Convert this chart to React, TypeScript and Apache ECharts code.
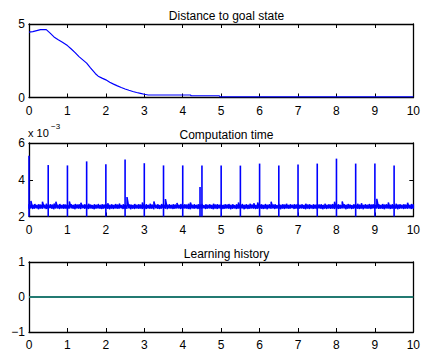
import React, { useEffect, useRef } from 'react';
import * as echarts from 'echarts';

// ---- Data ----
const distanceTimes = [0, 0.1, 0.2, 0.3, 0.45, 0.55, 0.65, 0.75, 0.87, 1.0, 1.1, 1.2, 1.3, 1.4, 1.5, 1.6, 1.73, 1.8, 1.9, 2.0, 2.1, 2.2, 2.3, 2.4, 2.5, 2.6, 2.7, 2.8, 2.9, 3.0, 3.1, 4.2, 4.22, 4.95, 4.97, 10];
const distanceValues = [4.45, 4.48, 4.55, 4.62, 4.62, 4.38, 4.12, 3.95, 3.76, 3.53, 3.3, 3.05, 2.78, 2.56, 2.34, 2.02, 1.62, 1.45, 1.32, 1.2, 1.04, 0.91, 0.79, 0.68, 0.58, 0.49, 0.41, 0.34, 0.28, 0.22, 0.17, 0.17, 0.12, 0.12, 0.05, 0.05];

// Computation time (x 10^-3), min / max envelope per 0.05 s bin
const compStep = 0.05;
const compHigh = [
  2.66, 2.85, 2.64, 2.68, 2.63, 2.67, 2.65, 2.80, 2.64, 2.69, 2.62, 2.67, 2.65, 2.70, 2.80, 2.64, 2.68, 2.63, 2.66, 2.65,
  2.64, 2.82, 2.66, 2.63, 2.68, 2.65, 2.67, 2.75, 2.64, 2.66, 2.63, 2.69, 2.65, 2.62, 2.67, 2.64, 2.68, 2.63, 2.66, 2.65,
  2.67, 2.72, 2.64, 2.66, 2.63, 2.68, 2.65, 2.70, 2.62, 2.66, 2.64, 3.06, 2.67, 2.65, 2.63, 2.68, 2.64, 2.66, 2.65, 2.76,
  2.64, 2.67, 2.63, 2.69, 2.65, 2.82, 2.64, 2.66, 2.62, 2.68, 2.65, 2.95, 2.64, 2.67, 2.63, 2.66, 2.65, 2.74, 2.64, 2.68,
  2.63, 2.66, 2.65, 2.69, 2.76, 2.64, 2.67, 2.63, 2.66, 2.65, 2.68, 2.62, 2.66, 2.64, 2.67, 2.63, 2.69, 2.65, 2.66, 2.64,
  2.67, 2.63, 2.66, 2.65, 2.68, 2.64, 2.66, 2.62, 2.67, 2.76, 2.65, 2.68, 2.63, 2.66, 2.64, 2.69, 2.65, 2.72, 2.63, 2.76,
  2.65, 2.67, 2.63, 2.68, 2.64, 2.66, 2.80, 2.65, 2.67, 2.62, 2.68, 2.64, 2.66, 2.65, 2.69, 2.63, 2.66, 2.64, 2.67, 2.65,
  2.68, 2.64, 2.66, 2.63, 2.69, 2.65, 2.67, 2.62, 2.66, 2.64, 2.68, 2.65, 2.67, 2.63, 2.70, 2.64, 2.66, 2.65, 2.68, 2.80,
  2.65, 2.67, 2.63, 2.82, 2.66, 2.64, 2.68, 2.65, 2.62, 2.67, 2.64, 2.69, 2.65, 2.72, 2.63, 2.66, 2.64, 2.68, 2.65, 2.67,
  2.64, 2.96, 2.66, 2.63, 2.68, 2.65, 2.67, 2.76, 2.64, 2.66, 2.63, 2.69, 2.65, 2.67, 2.64, 2.66, 2.65, 2.75, 2.63, 2.68,
  2.66,
];
const compLow = [
  2.42, 2.44, 2.41, 2.43, 2.45, 2.40, 2.43, 2.42, 2.44, 2.41, 2.43, 2.45, 2.42, 2.40, 2.44, 2.43, 2.41, 2.44, 2.42, 2.43,
  2.41, 2.43, 2.44, 2.42, 2.40, 2.44, 2.43, 2.41, 2.45, 2.42, 2.43, 2.41, 2.44, 2.42, 2.40, 2.43, 2.44, 2.42, 2.41, 2.43,
  2.44, 2.42, 2.40, 2.43, 2.41, 2.44, 2.42, 2.43, 2.45, 2.41, 2.43, 2.42, 2.44, 2.40, 2.43, 2.41, 2.44, 2.42, 2.43, 2.41,
  2.43, 2.41, 2.44, 2.42, 2.43, 2.40, 2.44, 2.42, 2.41, 2.43, 2.45, 2.42, 2.40, 2.44, 2.43, 2.41, 2.42, 2.44, 2.43, 2.41,
  2.42, 2.44, 2.43, 2.41, 2.40, 2.43, 2.42, 2.44, 2.41, 2.43, 2.42, 2.45, 2.41, 2.43, 2.44, 2.42, 2.40, 2.43, 2.41, 2.44,
  2.43, 2.41, 2.42, 2.44, 2.43, 2.40, 2.42, 2.44, 2.41, 2.43, 2.42, 2.44, 2.40, 2.43, 2.41, 2.42, 2.44, 2.43, 2.41, 2.42,
  2.44, 2.42, 2.41, 2.43, 2.40, 2.44, 2.42, 2.43, 2.41, 2.44, 2.42, 2.40, 2.43, 2.41, 2.44, 2.42, 2.43, 2.45, 2.41, 2.43,
  2.41, 2.43, 2.44, 2.42, 2.40, 2.43, 2.41, 2.44, 2.42, 2.43, 2.41, 2.44, 2.42, 2.40, 2.43, 2.41, 2.44, 2.42, 2.43, 2.41,
  2.43, 2.41, 2.42, 2.44, 2.43, 2.40, 2.42, 2.44, 2.41, 2.43, 2.44, 2.42, 2.41, 2.43, 2.40, 2.44, 2.42, 2.43, 2.41, 2.44,
  2.42, 2.44, 2.41, 2.43, 2.42, 2.40, 2.44, 2.43, 2.41, 2.42, 2.44, 2.43, 2.40, 2.42, 2.44, 2.41, 2.43, 2.42, 2.44, 2.41,
  2.43,
];
const spikeTimes = [0, 0.5, 1.0, 1.5, 2.0, 2.5, 3.0, 3.5, 4.0, 4.45, 4.5, 5.0, 5.5, 6.0, 6.5, 7.0, 7.5, 8.0, 8.5, 9.0, 9.5];
const spikeValues = [5.3, 4.8, 4.78, 5.0, 4.84, 5.1, 4.9, 4.78, 4.78, 3.6, 4.78, 4.78, 4.77, 4.88, 4.78, 4.83, 4.88, 5.15, 4.88, 4.88, 4.78];

const historyTimes = [0, 10];
const historyValues = [0, 0];

const titles = ['Distance to goal state', 'Computation time', 'Learning history'];
const yRanges = [
  { min: 0, max: 5, interval: 5 },
  { min: 2, max: 6, interval: 2 },
  { min: -1, max: 1, interval: 1 },
];

const FONT = '"Liberation Sans", Arial, Helvetica, sans-serif';
const GRID_TOPS = [24, 143, 262];
const GRID_H = 73.5;
const LEFT = 29;
const RIGHT = 9;

export default function App() {
  const ref = useRef<HTMLDivElement>(null);
  useEffect(() => {
    if (!ref.current) return;
    const chart = echarts.init(ref.current, undefined, { renderer: 'svg' });

    const grids = GRID_TOPS.map((top) => ({ left: LEFT, right: RIGHT, top, height: GRID_H, containLabel: false }));
    const axisLine = { show: true, onZero: false, lineStyle: { color: '#000', width: 1.3 } };
    const axisTick = { show: true, inside: true, length: 4, lineStyle: { color: '#000', width: 1 } };
    const xAxes: any[] = [];
    const yAxes: any[] = [];
    for (let g = 0; g < 3; g++) {
      ['bottom', 'top'].forEach((pos, k) => {
        xAxes.push({
          type: 'value', gridIndex: g, position: pos, min: 0, max: 10, interval: 1,
          axisLine, axisTick,
          axisLabel: { show: k === 0, color: '#000', fontSize: 12, fontFamily: FONT, margin: 7 },
          splitLine: { show: false },
        });
      });
      ['left', 'right'].forEach((pos, k) => {
        yAxes.push({
          type: 'value', gridIndex: g, position: pos, ...yRanges[g],
          axisLine, axisTick,
          axisLabel: {
            show: k === 0, color: '#000', fontSize: 12, fontFamily: FONT, margin: 4,
            formatter: (v: number) => (v < 0 ? '\u2212' + Math.abs(v) : String(v)),
          },
          splitLine: { show: false },
        });
      });
    }

    const compData: number[][] = [];
    compHigh.forEach((hi, i) => {
      const t = i * compStep;
      compData.push([t, compLow[i]]);
      compData.push([t, hi]);
    });

    chart.setOption({
      animation: false,
      backgroundColor: '#fff',
      title: titles.map((t, i) => ({
        text: t,
        left: (LEFT + (423 - RIGHT)) / 2,
        textAlign: 'center',
        top: GRID_TOPS[i] - 19,
        textStyle: { color: '#000', fontSize: 12, fontWeight: 'normal', fontFamily: FONT },
      })),
      grid: grids,
      xAxis: xAxes,
      yAxis: yAxes,
      series: [
        {
          type: 'line', xAxisIndex: 0, yAxisIndex: 0, showSymbol: false,
          data: distanceTimes.map((t, i) => [t, distanceValues[i]]),
          lineStyle: { color: '#0000ff', width: 1.2 }, itemStyle: { color: '#0000ff' },
        },
        {
          type: 'line', xAxisIndex: 2, yAxisIndex: 2, showSymbol: false,
          data: compData,
          lineStyle: { color: '#0000ff', width: 1.5 }, itemStyle: { color: '#0000ff' },
        },
        {
          type: 'bar', xAxisIndex: 2, yAxisIndex: 2, barWidth: 1.6,
          data: spikeTimes.map((t, i) => [t, spikeValues[i]]),
          itemStyle: { color: '#0000ff' },
        },
        {
          type: 'line', xAxisIndex: 4, yAxisIndex: 4, showSymbol: false,
          data: historyTimes.map((t, i) => [t, historyValues[i]]),
          lineStyle: { color: '#237a72', width: 2.2 }, itemStyle: { color: '#237a72' },
        },
      ],
      graphic: [
        { type: 'text', left: 28, top: 127, style: { text: 'x 10', fill: '#000', font: `11px ${FONT}` } },
        { type: 'text', left: 51, top: 122, style: { text: '\u22123', fill: '#000', font: `8px ${FONT}` } },
      ],
    });
    return () => chart.dispose();
  }, []);
  return <div ref={ref} style={{ position: 'absolute', left: 0, top: 0, width: 423, height: 351, background: '#fff' }} />;
}
